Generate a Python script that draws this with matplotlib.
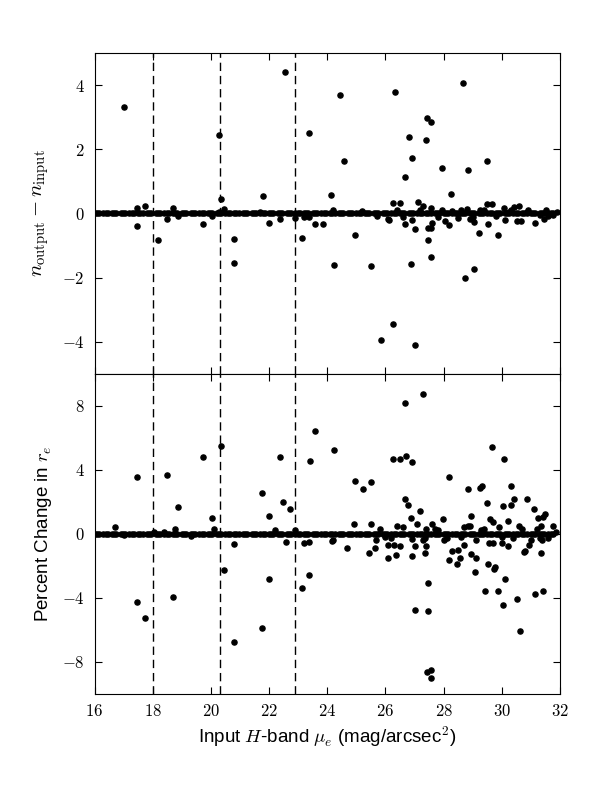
import numpy as np
import matplotlib
matplotlib.use("Agg")
import matplotlib.pyplot as plt
from matplotlib.ticker import FuncFormatter, FixedLocator

plt.rcParams['mathtext.fontset'] = 'cm'
plt.rcParams['font.family'] = ['Liberation Sans', 'DejaVu Sans']

# surface brightness cuts (dashed lines)
cuts = [18.0, 20.3, 22.9]

# galaxies that came back almost unchanged (the thick band at zero)
core_x = [16.0, 16.15, 16.3, 16.45, 16.6, 16.75, 16.9, 17.05, 17.2, 17.35, 17.5, 17.65,
          17.8, 17.95, 18.1, 18.25, 18.4, 18.55, 18.7, 18.85, 19.0, 19.15, 19.3, 19.45,
          19.6, 19.75, 19.9, 20.05, 20.2, 20.35, 20.5, 20.65, 20.8, 20.95, 21.1, 21.25,
          21.4, 21.55, 21.7, 21.85, 22.0, 22.15, 22.3, 22.45, 22.6, 22.75, 22.9, 23.05,
          23.2, 23.35, 23.5, 23.65, 23.8, 23.95, 24.1, 24.25, 24.4, 24.55, 24.7, 24.85,
          25.0, 25.15, 25.3, 25.45, 25.6, 25.75, 25.9, 26.05, 26.2, 26.35, 26.5, 26.65,
          26.8, 26.95, 27.1, 27.25, 27.4, 27.55, 27.7, 27.85, 28.0, 28.15, 28.3, 28.45,
          28.6, 28.75, 28.9, 29.05, 29.2, 29.35, 29.5, 29.65, 29.8, 29.95, 30.1, 30.25,
          30.4, 30.55, 30.7, 30.85, 31.0, 31.15, 31.3, 31.45, 31.6, 31.75,
          16.08, 16.38, 16.68, 16.98, 17.28, 17.58, 17.88, 18.18, 18.48, 18.78, 19.08,
          19.38, 19.68, 19.98, 20.28, 20.58, 20.88, 21.18, 21.48, 21.78, 22.08, 22.38,
          22.68, 22.98, 23.28, 23.58, 23.88, 24.18, 24.48, 24.78, 25.08, 25.38, 25.68,
          25.98, 26.28, 26.58, 26.88, 27.18, 27.48, 27.78, 28.08, 28.38, 28.68, 28.98,
          29.28, 29.58, 29.88, 30.18, 30.48, 30.78, 31.08, 31.38, 31.68]
core_dn = [0.0] * len(core_x)
core_dre = [0.0] * len(core_x)

# top panel: n_output - n_input
n_x = [17.02, 17.47, 17.47, 17.75, 18.19, 18.49, 18.70, 18.87, 19.73, 20.03, 20.28, 20.35,
       20.45, 20.28, 20.80, 20.78, 21.78, 21.68, 22.00, 22.39, 22.55, 22.90, 23.13, 23.20,
       23.37, 23.37, 23.59, 23.86, 24.13, 24.20, 24.24, 24.45, 24.57, 24.96, 25.51, 25.86,
       26.10, 26.12, 26.25, 26.27, 26.33, 26.50, 26.69, 26.69, 26.81, 26.89, 26.90, 26.90,
       27.02, 27.02, 27.11, 27.30, 27.41, 27.44, 27.48, 27.48, 27.57, 27.57, 27.57, 27.57,
       27.60, 27.94, 27.94, 28.05, 28.17, 28.25, 28.50, 28.65, 28.74, 28.80, 28.84, 28.92,
       29.05, 29.06, 29.21, 29.25, 29.48, 29.48, 29.53, 29.66, 29.88, 30.07, 30.10, 30.24,
       30.43, 30.58, 30.51, 30.65, 30.85, 31.14, 31.32, 31.44, 31.52, 31.77, 31.90,
       25.2, 25.7, 26.4, 26.6, 27.2, 27.8, 28.3, 28.6, 29.0, 29.4, 29.8, 30.3, 30.9, 31.6]
n_dy = [3.32, 0.16, -0.40, 0.24, -0.84, -0.17, 0.18, -0.09, -0.32, -0.07, 2.44, 0.44,
        0.13, 0.05, -0.80, -1.56, 0.53, 0.06, -0.29, -0.16, 4.41, -0.15, -0.78, -0.10,
        2.52, -0.10, -0.32, -0.32, 0.57, 0.10, -1.60, 3.70, 1.63, -0.66, -1.65, -3.94,
        -0.16, -0.20, -3.46, 0.34, 3.79, 0.32, 1.13, -0.32, 2.38, -1.58, 1.72, -0.20,
        -0.49, -4.12, 0.36, 0.24, 2.30, 2.97, -0.45, -0.83, 2.84, -0.45, -1.37, 0.18,
        -0.30, 1.41, 0.10, -0.23, -0.37, 0.60, -0.15, 4.06, -2.03, 0.15, 1.37, -0.16,
        -1.75, -0.26, -0.62, 0.10, 1.63, 0.30, -0.32, 0.30, -0.66, 0.16, -0.20, 0.05,
        0.20, 0.24, -0.25, -0.25, 0.05, -0.30, -0.05, -0.18, 0.10, -0.05, 0.03,
        0.08, -0.08, 0.12, -0.1, 0.1, -0.12, 0.08, 0.12, -0.1, 0.1, -0.08, 0.12, 0.1, -0.08]

# bottom panel: percent change in r_e
re_x = [16.71, 17.47, 17.47, 17.75, 17.00, 18.05, 18.40, 18.49, 18.70, 18.76, 18.88, 19.30,
        19.73, 20.03, 20.10, 20.35, 20.45, 20.80, 20.78, 21.76, 21.77, 22.00, 22.00, 22.20,
        22.39, 22.47, 22.58, 22.73, 22.90, 23.13, 23.20, 23.37, 23.36, 23.41, 23.58, 24.20,
        24.24, 24.17, 24.67, 24.93, 24.96, 25.22, 25.44, 25.50, 25.51, 25.64, 25.66, 26.08,
        26.10, 26.27, 26.30, 26.37, 26.40, 26.50, 26.50, 26.69, 26.70, 26.68, 26.77, 26.88,
        26.90, 26.91, 26.92, 27.02, 27.00, 27.10, 27.18, 27.30, 27.36, 27.38, 27.37, 27.40,
        27.48, 27.48, 27.42, 27.57, 27.57, 27.60, 28.00, 27.98, 28.17, 28.19, 28.30, 28.45,
        28.50, 28.57, 28.70, 28.84, 28.84, 28.90, 28.95, 28.95, 29.11, 29.07, 29.26, 29.31,
        29.41, 29.49, 29.52, 29.55, 29.60, 29.65, 29.70, 29.70, 29.72, 29.78, 29.88, 29.99,
        30.03, 30.05, 30.07, 30.12, 30.20, 30.20, 30.30, 30.32, 30.42, 30.52, 30.64, 30.75,
        30.80, 30.85, 30.93, 31.11, 31.14, 31.25, 31.34, 31.35, 31.37, 31.42, 31.40, 31.50,
        31.77, 31.87,
        25.8, 26.2, 26.6, 27.3, 27.7, 28.1, 28.7, 29.1, 29.4, 29.9, 30.4, 30.6, 31.0, 31.2,
        31.6, 26.0, 27.8, 28.6, 29.3, 30.0, 30.7, 31.3]
re_dy = [0.40, 3.52, -4.29, -5.25, -0.10, 0.10, 0.10, 3.65, -3.98, 0.27, 1.69, -0.15,
         4.77, 1.00, 0.30, 5.48, -2.29, -0.64, -6.79, 2.54, -5.87, 1.09, -2.81, 0.20,
         4.79, 1.98, -0.54, 1.54, 0.20, -3.39, -0.60, -0.50, -2.60, 4.56, 6.40, -0.40,
         5.21, -0.46, -0.92, 0.60, 3.29, 2.82, -1.23, 0.60, 3.21, -0.92, -0.40, -1.50,
         -0.70, 4.69, -0.70, -1.33, 0.50, 4.65, -0.80, 8.19, 4.84, 2.17, 1.77, 1.00,
         -0.35, 4.48, -1.38, -4.77, -0.80, 0.60, 1.42, 8.71, -0.30, -0.80, -1.23, 0.30,
         -3.06, -4.83, -8.62, -8.52, -9.04, 0.60, -0.40, 0.92, 3.56, -1.64, -1.10, -1.92,
         -1.00, -1.55, -0.70, 2.77, 0.50, 0.50, -1.25, 1.10, -1.50, -2.39, 2.83, 2.95,
         -3.56, 1.90, -1.89, -0.60, 0.90, 5.44, 0.70, -0.60, -2.19, -2.10, -3.56, -0.60,
         -4.46, 1.75, 4.67, -2.81, 0.80, -0.80, 1.80, 2.98, 2.15, -4.06, -6.10, -1.17,
         -1.10, 2.17, -0.70, 1.56, -3.77, 1.00, 0.50, -1.20, -0.40, -3.60, 1.05, 1.20,
         0.45, 0.10,
         0.3, -0.3, 0.4, -0.4, 0.3, -0.3, 0.4, -0.4, 0.3, 0.4, -0.3, 0.5, -0.4, 0.3,
         -0.3, -0.2, 0.2, -0.2, 0.2, -0.2, 0.3, -0.3]

fig = plt.figure(figsize=(6, 8), dpi=100)
ax1 = fig.add_axes([0.1575, 0.533, 0.7758, 0.4004])
ax2 = fig.add_axes([0.1575, 0.1329, 0.7758, 0.4001], sharex=ax1)

mfmt = FuncFormatter(lambda v, p: '$%g$' % v)

for ax in (ax1, ax2):
    for c in cuts:
        ax.axvline(c, color='k', ls=(0, (6, 3.5)), lw=1.0, zorder=1)
    ax.tick_params(direction='in', top=True, right=True, length=5, width=0.8,
                   labelsize=12, pad=7)
    ax.yaxis.set_major_formatter(mfmt)
    ax.xaxis.set_major_formatter(mfmt)

ms = 3.7
ax1.plot(core_x, core_dn, 'o', color='k', ms=ms, mec='k', zorder=3)
ax1.plot(n_x, n_dy, 'o', color='k', ms=ms, mec='k', zorder=3)
ax2.plot(core_x, core_dre, 'o', color='k', ms=ms, mec='k', zorder=3)
ax2.plot(re_x, re_dy, 'o', color='k', ms=ms, mec='k', zorder=3)

ax1.set_xlim(16, 32)
ax1.set_ylim(-5, 5)
ax1.yaxis.set_major_locator(FixedLocator([-4, -2, 0, 2, 4]))
ax1.tick_params(labelbottom=False)
ax2.set_ylim(-10, 10)
ax2.yaxis.set_major_locator(FixedLocator([-8, -4, 0, 4, 8]))
ax2.xaxis.set_major_locator(FixedLocator([16, 18, 20, 22, 24, 26, 28, 30, 32]))

ax1.set_ylabel(r'$n_{\rm output} - n_{\rm input}$', fontsize=15, labelpad=8)
ax2.set_ylabel(r'Percent Change in $r_e$', fontsize=13.5, labelpad=6)
ax2.set_xlabel(r'Input $H$-band $\mu_e$ (mag/arcsec$^2$)', fontsize=13.5, labelpad=3)

fig.savefig('out.png', dpi=100)
